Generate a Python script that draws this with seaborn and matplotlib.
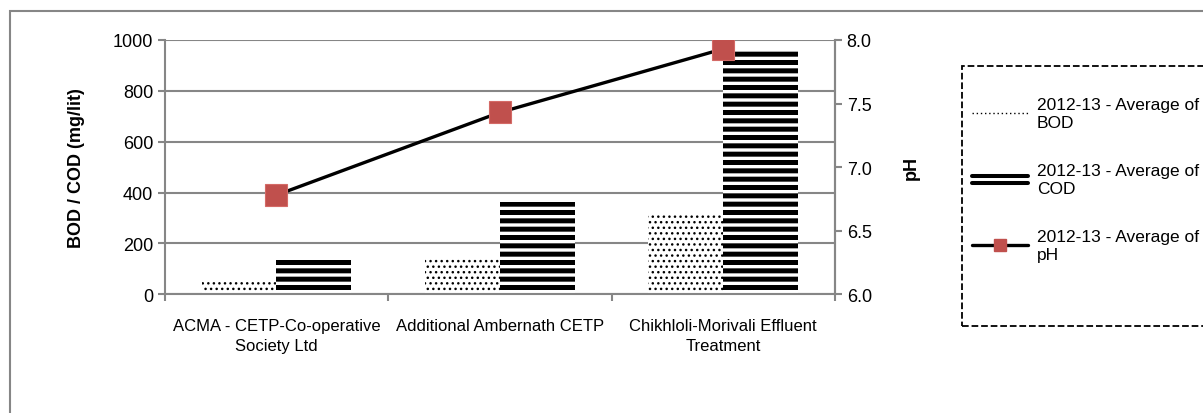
import pandas as pd
import seaborn as sns
import matplotlib.pyplot as plt
from matplotlib.patches import Rectangle
from matplotlib.lines import Line2D
from matplotlib.legend_handler import HandlerBase

# values
plants = ['ACMA - CETP-Co-operative\nSociety Ltd', 'Additional Ambernath CETP',
          'Chikhloli-Morivali Effluent\nTreatment']
bod = [47, 142, 315]
cod = [138, 362, 957]
ph = [6.78, 7.43, 7.93]
series = ['2012-13 - Average of\nBOD', '2012-13 - Average of\nCOD', '2012-13 - Average of\npH']

df = pd.DataFrame({'plant': plants * 2, 'value': bod + cod,
                   'series': [series[0]] * 3 + [series[1]] * 3})

sns.set_style('white')
plt.rcParams['font.family'] = ['Liberation Sans', 'DejaVu Sans']
plt.rcParams['text.color'] = 'black'
plt.rcParams['axes.labelcolor'] = 'black'
plt.rcParams['xtick.labelcolor'] = 'black'
plt.rcParams['ytick.labelcolor'] = 'black'
grey = '#868686'


class DoubleLine(HandlerBase):
    # Excel-style legend key for the striped COD bars: two thick lines
    def create_artists(self, legend, orig_handle, xdescent, ydescent, width, height,
                       fontsize, trans):
        y = height / 2 - ydescent
        return [Line2D([-xdescent, width - xdescent], [y + dy, y + dy], color='black',
                       linewidth=2.9, transform=trans) for dy in (2.6, -2.6)]


fig = plt.figure(figsize=(12.03, 4.14), dpi=100)
ax = fig.add_axes([0.137, 0.287, 0.557, 0.614])

sns.barplot(data=df, x='plant', y='value', hue='series', palette=['white', 'white'],
            width=0.67, legend=False, ax=ax, linewidth=0, edgecolor='black')
hatches = ['...', '--']
hlw = [1.0, 3.6]
for cont, h, lw in zip(ax.containers, hatches, hlw):
    for p in cont:
        p.set_hatch(h)
        p.set_edgecolor('black')
        p.set_linewidth(0)
        if hasattr(p, 'set_hatch_linewidth'):
            p.set_hatch_linewidth(lw)

ax.set_ylim(0, 1000)
ax.set_yticks(range(0, 1001, 200))
ax.set_xlim(-0.5, 2.5)
ax.set_xticks([-0.5, 0.5, 1.5, 2.5])
ax.set_xticklabels([])
ax.set_xticks([0, 1, 2], minor=True)
ax.set_xticklabels(plants, minor=True, fontsize=12, linespacing=1.4)
ax.tick_params(axis='x', which='minor', length=0, pad=17)
ax.tick_params(axis='x', which='major', length=5, width=1.5, color=grey, direction='out', bottom=True)
ax.tick_params(axis='y', length=5, width=1.5, color=grey, direction='out', left=True, labelsize=13)
ax.yaxis.grid(True, color=grey, linewidth=1.5)
ax.set_axisbelow(True)
ax.spines['top'].set_visible(False)
for s in ['left', 'bottom', 'right']:
    ax.spines[s].set_color(grey)
    ax.spines[s].set_linewidth(1.5)
ax.set_xlabel('')
ax.set_ylabel('BOD / COD (mg/lit)', fontsize=13, fontweight='bold', labelpad=20)

ax2 = ax.twinx()
sns.lineplot(x=[0, 1, 2], y=ph, ax=ax2, color='black', linewidth=2.4, marker='s',
             markersize=16, markerfacecolor='#C0504D', markeredgecolor='#D46A66',
             markeredgewidth=0.8)
ax2.set_ylim(6.0, 8.0)
ax2.set_yticks([6.0, 6.5, 7.0, 7.5, 8.0])
ax2.set_yticklabels(['6.0', '6.5', '7.0', '7.5', '8.0'])
ax2.tick_params(axis='y', length=5, width=1.5, color=grey, direction='out', right=True, labelsize=13)
ax2.set_ylabel('pH', fontsize=13, fontweight='bold', labelpad=22)
for s in ['top', 'left', 'bottom']:
    ax2.spines[s].set_visible(False)
ax2.spines['right'].set_color(grey)
ax2.spines['right'].set_linewidth(1.5)

# outer chart border
fig.patches.append(Rectangle((10 / 1203, -0.5), 1.5, 1.5 - 12 / 414, transform=fig.transFigure,
                             fill=False, edgecolor=grey, linewidth=1.5))
# dashed legend box
fig.patches.append(Rectangle((962 / 1203, 1 - 327 / 414), 260 / 1203, 260 / 414,
                             transform=fig.transFigure, fill=False, edgecolor='black',
                             linestyle='--', linewidth=1.3))

cod_key = object()
handles = [Line2D([0], [0], color='black', linewidth=1.0, linestyle=(0, (1, 2))),
           cod_key,
           Line2D([0], [0], color='black', linewidth=2.4, marker='s', markersize=9,
                  markerfacecolor='#C0504D', markeredgecolor='#C0504D')]
leg = fig.legend(handles, series, loc='upper left', bbox_to_anchor=(972 / 1203, 1 - 98 / 414),
                 fontsize=12.5, frameon=False, labelspacing=1.9,
                 handlelength=3.2, handleheight=0.9, handletextpad=0.55, borderpad=0,
                 borderaxespad=0, handler_map={cod_key: DoubleLine()})
for t in leg.get_texts():
    t.set_linespacing(1.25)

fig.savefig('out.png', dpi=100)
